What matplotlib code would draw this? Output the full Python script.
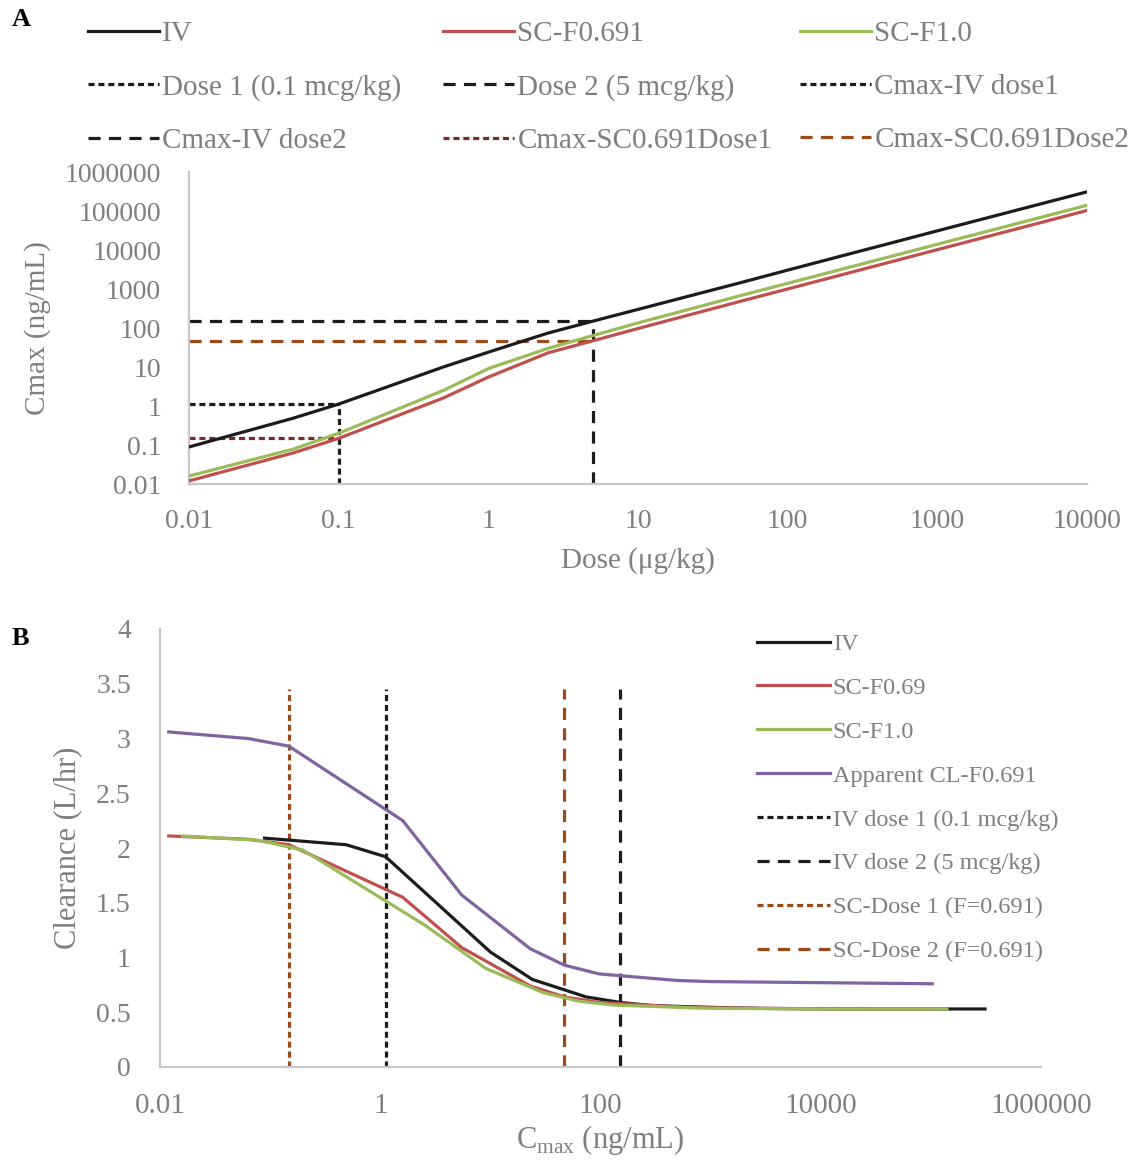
import matplotlib
matplotlib.use("Agg")
import matplotlib.pyplot as plt

plt.rcParams["font.family"] = ["Liberation Serif", "DejaVu Serif"]
plt.rcParams["mathtext.fontset"] = "custom"
plt.rcParams["mathtext.rm"] = "Liberation Serif"

# doses simulated (ug/kg)
doses = [0.01, 0.05, 0.1, 0.5, 1, 2.5, 5, 10, 50, 100, 1000, 10000]

# panel A: Cmax (ng/mL) per dose
cmax_iv = [0.089, 0.49, 1.12, 10, 24, 74, 150, 300, 1500, 3050, 31000, 310000]
cmax_sc069 = [0.012, 0.063, 0.148, 1.6, 5.5, 23, 47, 97, 500, 1000, 10200, 103000]
cmax_sc10 = [0.016, 0.079, 0.2, 2.5, 9.1, 30, 64, 135, 700, 1400, 14000, 140000]

# panel B: clearance (L/hr) per dose
cl_iv = [2.09, 2.03, 1.92, 1.05, 0.80, 0.64, 0.59, 0.56, 0.54, 0.535, 0.53, 0.53]
cl_sc069 = [2.11, 2.08, 2.03, 1.55, 1.09, 0.74, 0.64, 0.59, 0.55, 0.54, 0.53, 0.53]
cl_sc10 = [2.11, 2.07, 1.98, 1.30, 0.90, 0.68, 0.60, 0.565, 0.54, 0.535, 0.53, 0.53]
cl_apparent = [3.06, 3.0, 2.93, 2.25, 1.57, 1.08, 0.93, 0.85, 0.79, 0.78, 0.77, 0.76]

dose1, dose2 = 0.1, 5
cmax_iv_d1, cmax_iv_d2 = 1.12, 150
cmax_sc_d1, cmax_sc_d2 = 0.148, 47
ref_top = 3.45

xticks_a = [0.01, 0.1, 1, 10, 100, 1000, 10000]
yticks_a = [0.01, 0.1, 1, 10, 100, 1000, 10000, 100000, 1000000]
xticks_b = [0.01, 1, 100, 10000, 1000000]
yticks_b = [0, 0.5, 1, 1.5, 2, 2.5, 3, 3.5, 4]


def fmt(v):
    return f"{v:g}" if v < 1 else f"{int(v)}"


BLACK = "#1c1c1c"
RED = "#c0504d"
GREEN = "#9bbb59"
PURPLE = "#8064a2"
DARKRED = "#772c2a"
BROWN = "#9c4a1a"
GRAY = "#7f7f7f"
SPINE = "#c8c8c8"
LW = 2.3
DOT = (1.9, 1.2)
DASH = (3.8, 2.6)

fig = plt.figure(figsize=(11.4, 11.64), dpi=100)

# ---------------- panel A ----------------
axA = fig.add_axes([189 / 1140, 1 - 484 / 1164, 898 / 1140, 312 / 1164])
axA.set_xscale("log")
axA.set_yscale("log")
axA.set_xlim(0.01, 10000)
axA.set_ylim(0.01, 1000000)

lA = {}
lA["iv"], = axA.plot(doses, cmax_iv, color=BLACK, lw=LW, label="IV", zorder=3)
lA["sc069"], = axA.plot(doses, cmax_sc069, color=RED, lw=LW, label="SC-F0.691", zorder=3)
lA["sc10"], = axA.plot(doses, cmax_sc10, color=GREEN, lw=LW, label="SC-F1.0", zorder=3)
lA["d1"], = axA.plot([dose1, dose1], [0.01, cmax_iv_d1], color=BLACK, lw=LW,
                     dashes=DOT, label="Dose 1 (0.1 mcg/kg)")
lA["d2"], = axA.plot([dose2, dose2], [0.01, cmax_iv_d2], color=BLACK, lw=LW,
                     dashes=DASH, label="Dose 2 (5 mcg/kg)")
lA["civ1"], = axA.plot([0.01, dose1], [cmax_iv_d1, cmax_iv_d1], color=BLACK, lw=LW,
                       dashes=DOT, label="Cmax-IV dose1")
lA["civ2"], = axA.plot([0.01, dose2], [cmax_iv_d2, cmax_iv_d2], color=BLACK, lw=LW,
                       dashes=DASH, label="Cmax-IV dose2")
lA["csc1"], = axA.plot([0.01, dose1], [cmax_sc_d1, cmax_sc_d1], color=DARKRED, lw=LW,
                       dashes=DOT, label="Cmax-SC0.691Dose1")
lA["csc2"], = axA.plot([0.01, dose2], [cmax_sc_d2, cmax_sc_d2], color=BROWN, lw=LW,
                       dashes=DASH, label="Cmax-SC0.691Dose2")

axA.set_xticks(xticks_a)
axA.set_xticklabels([fmt(v) for v in xticks_a])
axA.set_yticks(yticks_a)
axA.set_yticklabels([fmt(v) for v in yticks_a])
axA.minorticks_off()
axA.tick_params(axis="both", length=0, colors=GRAY, labelsize=20)
axA.tick_params(axis="x", pad=18)
axA.tick_params(axis="y", pad=20)
axA.set_xlabel("Dose (μg/kg)", color=GRAY, fontsize=21, va="center")
axA.xaxis.set_label_coords(0.5, (484 - 561) / 312)
axA.set_ylabel("Cmax (ng/mL)", color=GRAY, fontsize=21, va="center")
axA.yaxis.set_label_coords((38 - 189) / 898, 0.5)

# legend laid out as three columns, filled row by row like the original
cols = [["iv", "d1", "civ2"], ["sc069", "d2", "csc1"], ["sc10", "civ1", "csc2"]]
col_x = [88, 443, 800]
for keys, x0 in zip(cols, col_x):
    fig.legend(handles=[lA[k] for k in keys], loc="upper left",
               bbox_to_anchor=(x0 / 1140, 1 - 21 / 1164), frameon=False,
               fontsize=21, labelcolor=GRAY, handlelength=2.45, handletextpad=0.1,
               borderpad=0, borderaxespad=0, labelspacing=0.91)

# ---------------- panel B ----------------
axB = fig.add_axes([160 / 1140, 1 - 1067 / 1164, 881 / 1140, 438 / 1164])
axB.set_xscale("log")
axB.set_xlim(0.01, 1000000)
axB.set_ylim(0, 4)

hB = []
hB.append(axB.plot(cmax_iv, cl_iv, color=BLACK, lw=LW, label="IV", zorder=3)[0])
hB.append(axB.plot(cmax_sc069, cl_sc069, color=RED, lw=LW, label="SC-F0.69", zorder=3)[0])
hB.append(axB.plot(cmax_sc10, cl_sc10, color=GREEN, lw=LW, label="SC-F1.0", zorder=3)[0])
hB.append(axB.plot(cmax_sc069, cl_apparent, color=PURPLE, lw=LW,
                   label="Apparent CL-F0.691", zorder=3)[0])
hB.append(axB.plot([cmax_iv_d1, cmax_iv_d1], [0, ref_top], color=BLACK, lw=LW,
                   dashes=DOT, label="IV dose 1 (0.1 mcg/kg)")[0])
hB.append(axB.plot([cmax_iv_d2, cmax_iv_d2], [0, ref_top], color=BLACK, lw=LW,
                   dashes=DASH, label="IV dose 2 (5 mcg/kg)")[0])
hB.append(axB.plot([cmax_sc_d1, cmax_sc_d1], [0, ref_top], color=BROWN, lw=LW,
                   dashes=DOT, label="SC-Dose 1 (F=0.691)")[0])
hB.append(axB.plot([cmax_sc_d2, cmax_sc_d2], [0, ref_top], color=BROWN, lw=LW,
                   dashes=DASH, label="SC-Dose 2 (F=0.691)")[0])

axB.set_xticks(xticks_b)
axB.set_xticklabels([fmt(v) for v in xticks_b])
axB.set_yticks(yticks_b)
axB.set_yticklabels([f"{v:g}" for v in yticks_b])
axB.minorticks_off()
axB.tick_params(axis="both", length=0, colors=GRAY)
axB.tick_params(axis="x", pad=19, labelsize=21)
axB.tick_params(axis="y", pad=21, labelsize=20)
axB.set_xlabel(r"C$_\mathregular{max}$ (ng/mL)", color=GRAY, fontsize=22, va="center")
axB.xaxis.set_label_coords(0.5, (1067 - 1140) / 438)
axB.set_ylabel("Clearance (L/hr)", color=GRAY, fontsize=22, va="center")
axB.yaxis.set_label_coords((68 - 160) / 881, 0.5)

axB.legend(handles=hB, loc="upper left", bbox_to_anchor=(757 / 1140, 1 - 633 / 1164),
           bbox_transform=fig.transFigure, frameon=False, fontsize=17.5,
           labelcolor=GRAY, handlelength=3.0, handletextpad=0.12,
           borderpad=0, borderaxespad=0, labelspacing=0.9)

for ax in (axA, axB):
    for side in ("top", "right"):
        ax.spines[side].set_visible(False)
    for side in ("left", "bottom"):
        ax.spines[side].set_color(SPINE)
        ax.spines[side].set_linewidth(1.6)

fig.text(12 / 1140, 1 - 20 / 1164, "A", fontsize=19, fontweight="bold", color="black", va="center")
fig.text(12 / 1140, 1 - 638 / 1164, "B", fontsize=19, fontweight="bold", color="black", va="center")

fig.savefig("out.png", dpi=100)
